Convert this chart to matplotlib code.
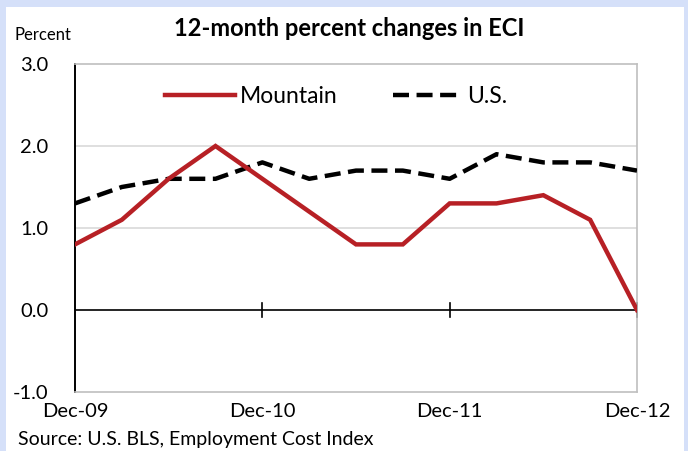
import numpy as np
import matplotlib.pyplot as plt

# quarterly 12-month percent changes, Dec-09 .. Dec-12
quarters = list(range(13))
mountain = [0.8, 1.1, 1.6, 2.0, 1.6, 1.2, 0.8, 0.8, 1.3, 1.3, 1.4, 1.1, 0.0]
us = [1.3, 1.5, 1.6, 1.6, 1.8, 1.6, 1.7, 1.7, 1.6, 1.9, 1.8, 1.8, 1.7]
year_idx = [0, 4, 8, 12]
year_labels = ['Dec-09', 'Dec-10', 'Dec-11', 'Dec-12']
y_ticks = [-1.0, 0.0, 1.0, 2.0, 3.0]

plt.rcParams['font.family'] = ['Lato', 'DejaVu Sans']

W, H = 688, 451
fig = plt.figure(figsize=(W / 100, H / 100), dpi=100)
fig.patch.set_facecolor('#d5e0f9')

# white panel behind the chart
bg = fig.add_axes([6 / W, 0, (684 - 6) / W, (H - 7) / H])
bg.set_facecolor('white')
bg.set_xticks([])
bg.set_yticks([])
for s in bg.spines.values():
    s.set_visible(False)

ax = fig.add_axes([75 / W, (H - 392) / H, (637 - 75) / W, (392 - 64) / H])
ax.set_facecolor('white')

ax.plot(quarters, mountain, color='#b72025', lw=3.2, label='Mountain',
        solid_joinstyle='miter', zorder=4)
ax.plot(quarters, us, color='black', lw=3.2, ls=(0, (3.6, 1.7)), label='U.S.',
        zorder=3)

ax.set_xlim(0, 12)
ax.set_ylim(-1, 3)
ax.set_yticks(y_ticks)
ax.set_yticklabels(['%.1f' % v for v in y_ticks], fontsize=14.5)
ax.tick_params(axis='y', length=0, pad=19)
ax.set_xticks(year_idx)
ax.set_xticklabels(year_labels, fontsize=14.5)
ax.tick_params(axis='x', length=0, pad=8)

for v in [1.0, 2.0]:
    ax.axhline(v, color='#d9d9d9', lw=1.2, zorder=1)
ax.axhline(0, color='black', lw=1.2, zorder=2)
for i in year_idx[1:]:
    ax.plot([i, i], [-0.09, 0.09], color='black', lw=1.2, zorder=2,
            clip_on=False)

for s in ['top', 'right', 'bottom']:
    ax.spines[s].set_color('#bfbfbf')
    ax.spines[s].set_linewidth(1.2)
ax.spines['left'].set_color('black')
ax.spines['left'].set_linewidth(1.4)

leg = ax.legend(loc='center', bbox_to_anchor=(0.465, 0.9), ncol=2,
                frameon=False, fontsize=16.5, handlelength=3.05,
                handletextpad=0.22, columnspacing=2.4)

fig.text(349 / W, 1 - 28 / H, '12-month percent changes in ECI',
         ha='center', va='center', fontsize=17, fontweight='bold')
fig.text(14 / W, 1 - 35 / H, 'Percent', ha='left', va='center', fontsize=12)
fig.text(18 / W, 1 - 440 / H, 'Source: U.S. BLS, Employment Cost Index',
         ha='left', va='center', fontsize=14)

fig.savefig('out.png', dpi=100, facecolor=fig.get_facecolor())
